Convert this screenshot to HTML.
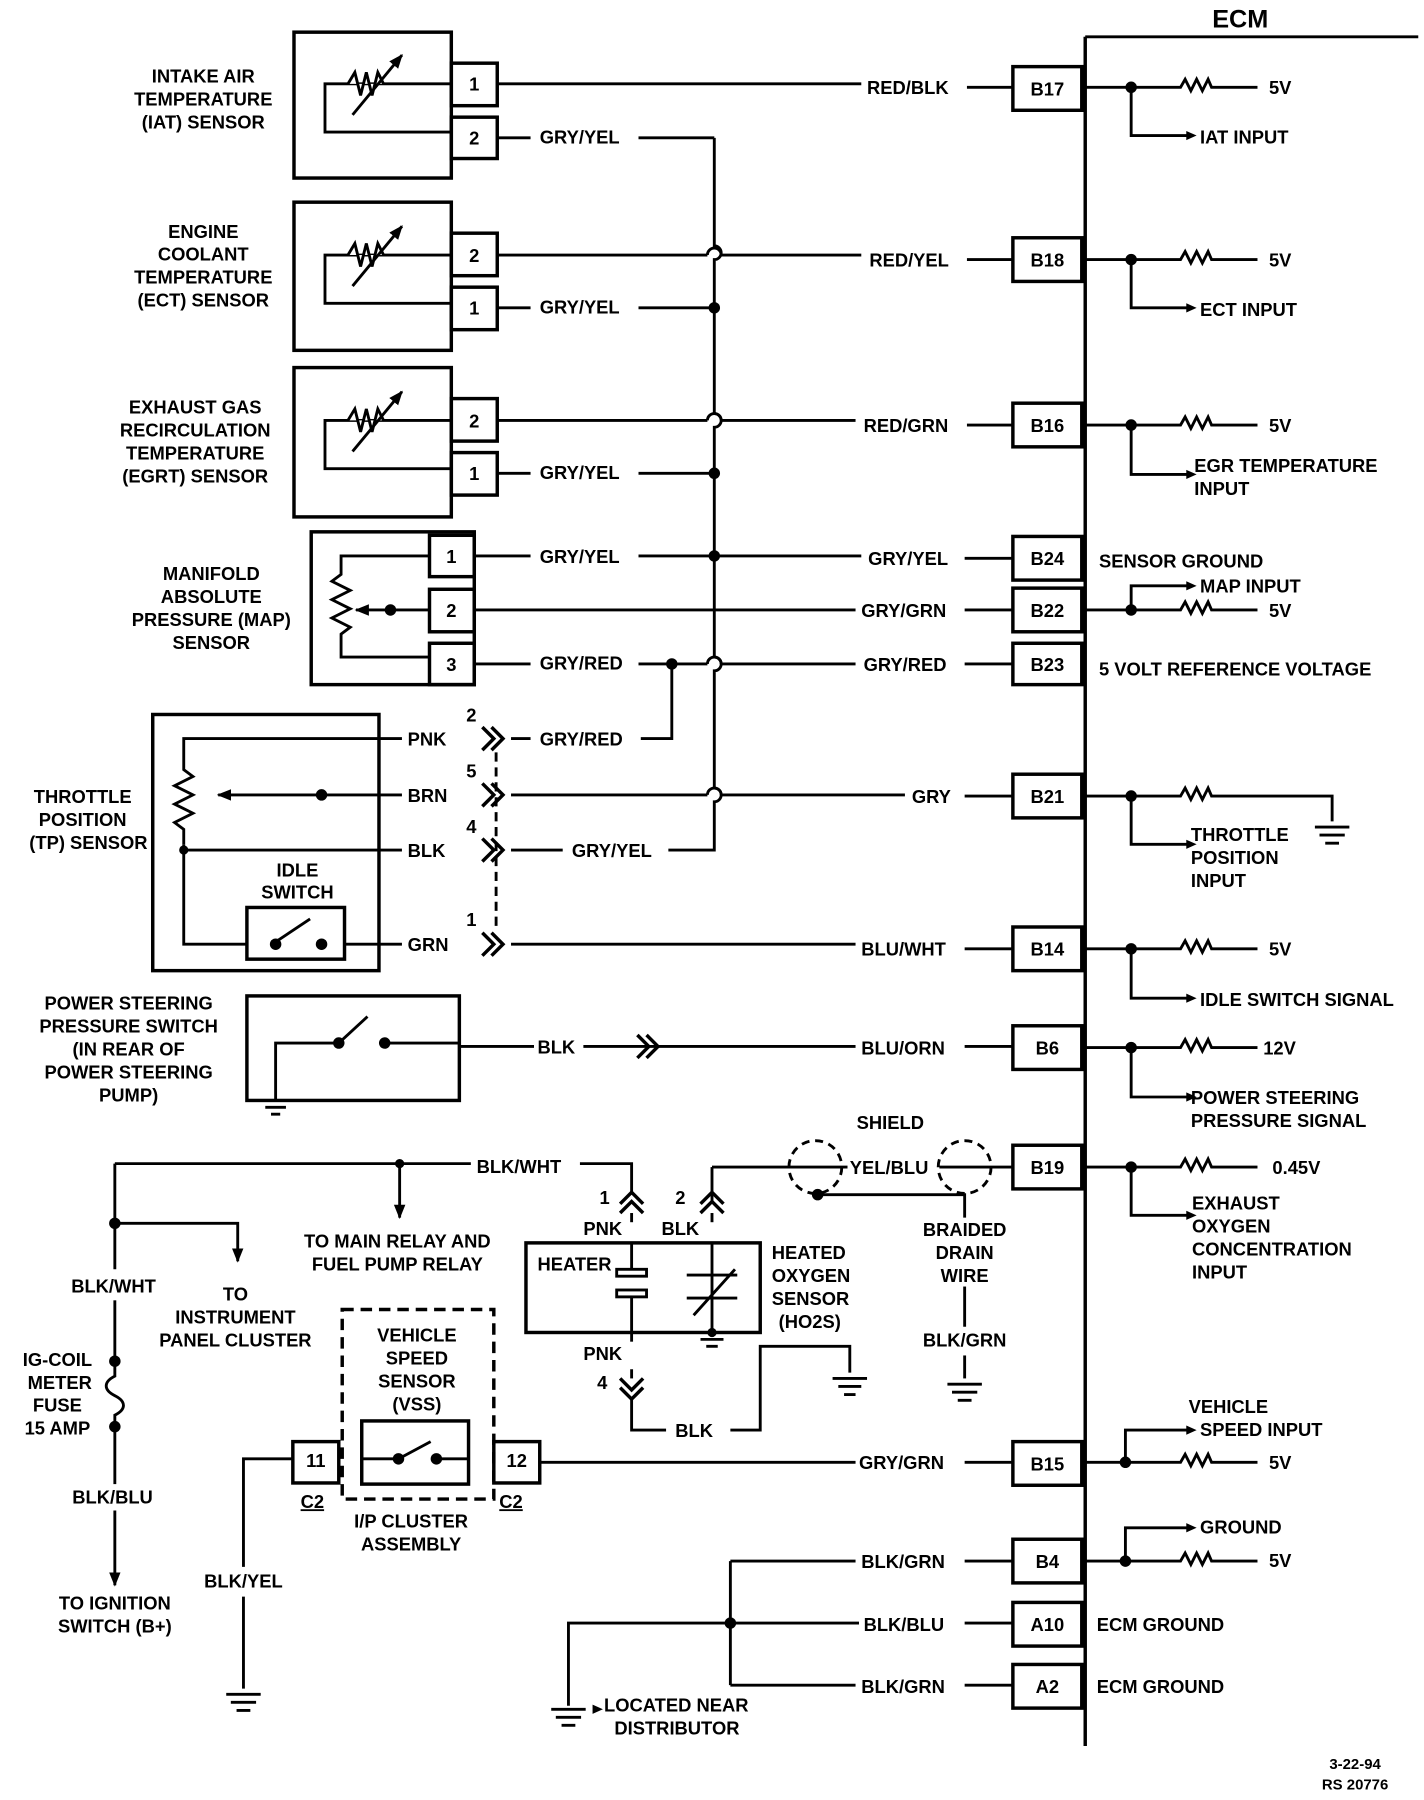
<!DOCTYPE html>
<html><head><meta charset="utf-8"><style>
html,body{margin:0;padding:0;background:#fff;}
svg{display:block;}
text{font-family:"Liberation Sans",sans-serif;font-weight:bold;font-size:16px;fill:#000;}
.m{text-anchor:middle;}
</style></head><body>
<svg width="1424" height="1800" viewBox="0 0 1240 1567" preserveAspectRatio="none" xmlns="http://www.w3.org/2000/svg">
<defs>
<marker id="ar" viewBox="0 0 10 10" refX="9" refY="5" markerWidth="5" markerHeight="5" orient="auto"><path d="M0,1 L10,5 L0,9z" fill="#000"/></marker>
</defs>
<g stroke="#000" stroke-width="2.5" fill="none">
<line x1="945" y1="32" x2="1235" y2="32"/>
<line x1="945" y1="32" x2="945" y2="1520" stroke-width="3"/>
<g stroke-width="3">
<rect x="882" y="58" width="60" height="38"/>
<rect x="882" y="207" width="60" height="38"/>
<rect x="882" y="351" width="60" height="38"/>
<rect x="882" y="467" width="60" height="38"/>
<rect x="882" y="512" width="60" height="38"/>
<rect x="882" y="560" width="60" height="36"/>
<rect x="882" y="674" width="60" height="38"/>
<rect x="882" y="807" width="60" height="38"/>
<rect x="882" y="893" width="60" height="38"/>
<rect x="882" y="997" width="60" height="38"/>
<rect x="882" y="1255" width="60" height="38"/>
<rect x="882" y="1340" width="60" height="38"/>
<rect x="882" y="1395" width="60" height="38"/>
<rect x="882" y="1449" width="60" height="38"/>
<rect x="256" y="28" width="137" height="127"/>
<rect x="393" y="55" width="40" height="37"/><rect x="393" y="102" width="40" height="36"/>
<rect x="256" y="176" width="137" height="129"/>
<rect x="393" y="203" width="40" height="37"/><rect x="393" y="250" width="40" height="37"/>
<rect x="256" y="320" width="137" height="130"/>
<rect x="393" y="347" width="40" height="37"/><rect x="393" y="394" width="40" height="37"/>
<rect x="271" y="463" width="142" height="133"/>
<rect x="374" y="466" width="39" height="36"/><rect x="374" y="513" width="39" height="37"/><rect x="374" y="560" width="39" height="36"/>
<rect x="133" y="622" width="197" height="223"/>
<rect x="215" y="790" width="85" height="45"/>
<rect x="215" y="867" width="185" height="91"/>
<rect x="458" y="1082" width="204" height="78"/>
<rect x="255" y="1255" width="40" height="36"/>
<rect x="430" y="1255" width="40" height="36"/>
<rect x="315" y="1237" width="93" height="55"/>
</g>
<rect x="298" y="1140" width="132" height="165" stroke-dasharray="10,6" stroke-width="3"/>
<path d="M393,73 H283 V115 H393"/>
<path d="M393,222 H283 V264 H393"/>
<path d="M393,366 H283 V408 H393"/>
<path d="M303,73 l6,-10 l5,20 l5,-20 l5,20 l5,-20 l5,10" fill="#fff"/>
<path d="M303,222 l6,-10 l5,20 l5,-20 l5,20 l5,-20 l5,10" fill="#fff"/>
<path d="M303,366 l6,-10 l5,20 l5,-20 l5,20 l5,-20 l5,10" fill="#fff"/>
<line x1="307" y1="100" x2="350" y2="48" marker-end="url(#ar)"/>
<line x1="307" y1="249" x2="350" y2="197" marker-end="url(#ar)"/>
<line x1="307" y1="393" x2="350" y2="341" marker-end="url(#ar)"/>
<path d="M374,484 H297 V500 l-8,6 l16,8 l-16,8 l16,8 l-16,8 l16,8 l-8,6 V572 H374"/>
<line x1="374" y1="531" x2="340" y2="531"/><line x1="340" y1="531" x2="310" y2="531" marker-end="url(#ar)"/>
<path d="M160,735 V722 l-8,-6 l16,-8 l-16,-8 l16,-8 l-16,-8 l16,-8 l-8,-6 V643 H350"/>
<line x1="350" y1="692" x2="280" y2="692"/><line x1="280" y1="692" x2="190" y2="692" marker-end="url(#ar)"/>
<line x1="160" y1="740" x2="350" y2="740"/>
<path d="M160,735 V822 H215"/>
<line x1="300" y1="822" x2="350" y2="822"/>
<line x1="240" y1="820" x2="270" y2="800"/>
<path d="M240,958 V908 H295"/><line x1="295" y1="908" x2="320" y2="885"/><line x1="335" y1="908" x2="400" y2="908"/>
<path d="M227,958 H253 M231,964 H249 M236,970 H244"/>
<line x1="400" y1="911" x2="465" y2="911"/><line x1="508" y1="911" x2="745" y2="911"/><line x1="840" y1="911" x2="882" y2="911"/>
<line x1="433" y1="73" x2="750" y2="73"/><line x1="842" y1="76" x2="882" y2="76"/>
<line x1="433" y1="120" x2="462" y2="120"/><line x1="556" y1="120" x2="622" y2="120"/>
<line x1="433" y1="222" x2="616" y2="222"/><path d="M616,222 a6,6 0 0 1 12,0"/><line x1="628" y1="222" x2="750" y2="222"/><line x1="842" y1="226" x2="882" y2="226"/>
<line x1="433" y1="268" x2="462" y2="268"/><line x1="556" y1="268" x2="622" y2="268"/>
<line x1="433" y1="366" x2="616" y2="366"/><path d="M616,366 a6,6 0 0 1 12,0"/><line x1="628" y1="366" x2="745" y2="366"/><line x1="842" y1="370" x2="882" y2="370"/>
<line x1="433" y1="412" x2="462" y2="412"/><line x1="556" y1="412" x2="622" y2="412"/>
<line x1="413" y1="484" x2="462" y2="484"/><line x1="556" y1="484" x2="750" y2="484"/><line x1="840" y1="486" x2="882" y2="486"/>
<line x1="413" y1="531" x2="745" y2="531"/><line x1="840" y1="531" x2="882" y2="531"/>
<line x1="413" y1="578" x2="462" y2="578"/><line x1="556" y1="578" x2="616" y2="578"/><path d="M616,578 a6,6 0 0 1 12,0"/><line x1="628" y1="578" x2="745" y2="578"/><line x1="840" y1="578" x2="882" y2="578"/>
<path d="M622,120 V214 a6,6 0 0 1 0,12 V360 a6,6 0 0 1 0,12 V572 a6,6 0 0 1 0,12 V686 a6,6 0 0 1 0,12 V740 H582"/>
<path d="M585,578 V643 H558"/>
<line x1="445" y1="643" x2="462" y2="643"/>
<line x1="445" y1="692" x2="616" y2="692"/><path d="M616,692 a6,6 0 0 1 12,0"/><line x1="628" y1="692" x2="788" y2="692"/><line x1="840" y1="693" x2="882" y2="693"/>
<line x1="445" y1="740" x2="490" y2="740"/>
<line x1="445" y1="822" x2="745" y2="822"/><line x1="840" y1="826" x2="882" y2="826"/>
<line x1="432" y1="655" x2="432" y2="810" stroke-dasharray="8,5"/>
<g stroke-width="3">
<path d="M420,633 l10,10 l-10,10 M428,633 l10,10 l-10,10"/>
<path d="M420,682 l10,10 l-10,10 M428,682 l10,10 l-10,10"/>
<path d="M420,730 l10,10 l-10,10 M428,730 l10,10 l-10,10"/>
<path d="M420,812 l10,10 l-10,10 M428,812 l10,10 l-10,10"/>
<path d="M555,901 l10,10 l-10,10 M563,901 l10,10 l-10,10"/>
<path d="M540,1048 l10,-10 l10,10 M540,1056 l10,-10 l10,10"/>
<path d="M610,1048 l10,-10 l10,10 M610,1056 l10,-10 l10,10"/>
<path d="M540,1200 l10,10 l10,-10 M540,1208 l10,10 l10,-10"/>
</g>
<line x1="100" y1="1013" x2="410" y2="1013"/><path d="M505,1013 H550 V1040"/>
<line x1="348" y1="1013" x2="348" y2="1060" marker-end="url(#ar)"/>
<line x1="100" y1="1013" x2="100" y2="1105"/>
<path d="M100,1065 H207 V1098" marker-end="url(#ar)"/>
<line x1="100" y1="1132" x2="100" y2="1185"/>
<path d="M100,1185 V1198 c-10,5 -10,12 0,17 c10,5 10,12 0,17 V1242"/>
<line x1="100" y1="1242" x2="100" y2="1292"/>
<line x1="100" y1="1315" x2="100" y2="1380" marker-end="url(#ar)"/>
<line x1="550" y1="1056" x2="550" y2="1064"/>
<line x1="550" y1="1082" x2="550" y2="1105"/>
<rect x="537" y="1105" width="26" height="6"/><rect x="537" y="1123" width="26" height="6"/>
<line x1="550" y1="1129" x2="550" y2="1160"/>
<line x1="550" y1="1160" x2="550" y2="1168"/>
<line x1="550" y1="1192" x2="550" y2="1200"/>
<path d="M550,1218 V1245 H580"/><path d="M636,1245 H662 V1172 H740 V1195"/>
<path d="M725,1200 H755 M730,1207 H750 M735,1214 H745"/>
<path d="M620,1016 V1048"/><path d="M620,1056 V1064"/>
<path d="M620,1082 V1160"/>
<path d="M598,1110 H642 M598,1130 H642 M604,1145 l36,-40"/>
<path d="M605,1160 H635 M610,1166 H630 M615,1172 H625"/>
<line x1="620" y1="1016" x2="738" y2="1016"/><line x1="818" y1="1016" x2="882" y2="1016"/>
<path d="M712,1040 H840 V1060"/><line x1="840" y1="1120" x2="840" y2="1155"/><line x1="840" y1="1180" x2="840" y2="1200"/>
<path d="M825,1205 H855 M829,1212 H851 M834,1219 H846"/>
<circle cx="710" cy="1016" r="23" stroke-dasharray="7,5"/>
<circle cx="840" cy="1016" r="23" stroke-dasharray="7,5"/>
<line x1="315" y1="1270" x2="345" y2="1270"/><line x1="347" y1="1270" x2="375" y2="1255"/><line x1="380" y1="1270" x2="408" y2="1270"/>
<path d="M255,1270 H212 V1364"/><line x1="212" y1="1390" x2="212" y2="1470"/>
<path d="M197,1475 H227 M201,1482 H223 M206,1489 H218"/>
<line x1="470" y1="1273" x2="745" y2="1273"/><line x1="840" y1="1273" x2="882" y2="1273"/>
<line x1="745" y1="1359" x2="636" y2="1359"/><line x1="840" y1="1359" x2="882" y2="1359"/>
<line x1="748" y1="1413" x2="636" y2="1413"/><line x1="840" y1="1413" x2="882" y2="1413"/>
<line x1="745" y1="1467" x2="636" y2="1467"/><line x1="840" y1="1467" x2="882" y2="1467"/>
<path d="M636,1359 V1467"/><path d="M636,1413 H495 V1485"/>
<path d="M480,1488 H510 M484,1495 H506 M489,1502 H501"/>
<path d="M945,76 H985 V118 H1035" /><path d="M985,76 H1028 l4,-7 l5,10 l5,-10 l5,10 l5,-10 l3,7 H1095"/>
<path d="M945,226 H985 V268 H1035"/><path d="M985,226 H1028 l4,-7 l5,10 l5,-10 l5,10 l5,-10 l3,7 H1095"/>
<path d="M945,370 H985 V413 H1035"/><path d="M985,370 H1028 l4,-7 l5,10 l5,-10 l5,10 l5,-10 l3,7 H1095"/>
<path d="M945,531 H985 V510 H1035"/><path d="M985,531 H1028 l4,-7 l5,10 l5,-10 l5,10 l5,-10 l3,7 H1095"/>
<path d="M945,693 H985 V735 H1035"/><path d="M985,693 H1028 l4,-7 l5,10 l5,-10 l5,10 l5,-10 l3,7 H1160 V715"/>
<path d="M1145,720 H1175 M1149,727 H1171 M1154,734 H1166"/>
<path d="M945,826 H985 V869 H1035"/><path d="M985,826 H1028 l4,-7 l5,10 l5,-10 l5,10 l5,-10 l3,7 H1095"/>
<path d="M945,912 H985 V955 H1035"/><path d="M985,912 H1028 l4,-7 l5,10 l5,-10 l5,10 l5,-10 l3,7 H1095"/>
<path d="M945,1016 H985 V1058 H1035"/><path d="M985,1016 H1028 l4,-7 l5,10 l5,-10 l5,10 l5,-10 l3,7 H1095"/>
<path d="M945,1273 H980 V1245 H1035"/><path d="M980,1273 H1028 l4,-7 l5,10 l5,-10 l5,10 l5,-10 l3,7 H1095"/>
<path d="M945,1359 H980 V1330 H1035"/><path d="M980,1359 H1028 l4,-7 l5,10 l5,-10 l5,10 l5,-10 l3,7 H1095"/>
</g>
<g fill="#000">
<path d="M1042,118 l-9,-4 v8z"/><path d="M1042,268 l-9,-4 v8z"/><path d="M1042,413 l-9,-4 v8z"/><path d="M1042,510 l-9,-4 v8z"/>
<path d="M1042,735 l-9,-4 v8z"/><path d="M1042,869 l-9,-4 v8z"/><path d="M1042,955 l-9,-4 v8z"/><path d="M1042,1058 l-9,-4 v8z"/>
<path d="M1042,1245 l-9,-4 v8z"/><path d="M1042,1330 l-9,-4 v8z"/>
<path d="M525,1488 l-9,-4 v8z"/>
<circle cx="985" cy="76" r="5"/><circle cx="985" cy="226" r="5"/><circle cx="985" cy="370" r="5"/><circle cx="985" cy="531" r="5"/>
<circle cx="985" cy="693" r="5"/><circle cx="985" cy="826" r="5"/><circle cx="985" cy="912" r="5"/><circle cx="985" cy="1016" r="5"/>
<circle cx="980" cy="1273" r="5"/><circle cx="980" cy="1359" r="5"/>
<circle cx="622" cy="268" r="5"/><circle cx="622" cy="412" r="5"/><circle cx="622" cy="484" r="5"/><circle cx="585" cy="578" r="5"/>
<circle cx="340" cy="531" r="5"/><circle cx="280" cy="692" r="5"/><circle cx="160" cy="740" r="4"/>
<circle cx="240" cy="822" r="5"/><circle cx="280" cy="822" r="5"/>
<circle cx="295" cy="908" r="5"/><circle cx="335" cy="908" r="5"/>
<circle cx="348" cy="1013" r="4"/><circle cx="100" cy="1065" r="5"/><circle cx="100" cy="1185" r="5"/><circle cx="100" cy="1242" r="5"/>
<circle cx="712" cy="1040" r="5"/><circle cx="347" cy="1270" r="5"/><circle cx="380" cy="1270" r="5"/>
<circle cx="636" cy="1413" r="5"/><circle cx="620" cy="1160" r="4"/>
</g>
<text x="1080" y="24" class="m" style="font-size:22px">ECM</text>
<g class="m">
<text x="177" y="72" class="m">INTAKE AIR</text><text x="177" y="92" class="m">TEMPERATURE</text><text x="177" y="112" class="m">(IAT) SENSOR</text>
<text x="177" y="207" class="m">ENGINE</text><text x="177" y="227" class="m">COOLANT</text><text x="177" y="247" class="m">TEMPERATURE</text><text x="177" y="267" class="m">(ECT) SENSOR</text>
<text x="170" y="360" class="m">EXHAUST GAS</text><text x="170" y="380" class="m">RECIRCULATION</text><text x="170" y="400" class="m">TEMPERATURE</text><text x="170" y="420" class="m">(EGRT) SENSOR</text>
<text x="184" y="505" class="m">MANIFOLD</text><text x="184" y="525" class="m">ABSOLUTE</text><text x="184" y="545" class="m">PRESSURE (MAP)</text><text x="184" y="565" class="m">SENSOR</text>
<text x="72" y="699" class="m">THROTTLE</text><text x="72" y="719" class="m">POSITION</text><text x="77" y="739" class="m">(TP) SENSOR</text>
<text x="259" y="763" class="m">IDLE</text><text x="259" y="782" class="m">SWITCH</text>
<text x="112" y="879" class="m">POWER STEERING</text><text x="112" y="899" class="m">PRESSURE SWITCH</text><text x="112" y="919" class="m">(IN REAR OF</text><text x="112" y="939" class="m">POWER STEERING</text><text x="112" y="959" class="m">PUMP)</text>
</g>
<text x="413" y="79" class="m">1</text><text x="413" y="126" class="m">2</text>
<text x="413" y="228" class="m">2</text><text x="413" y="274" class="m">1</text>
<text x="413" y="372" class="m">2</text><text x="413" y="418" class="m">1</text>
<text x="393" y="490" class="m">1</text><text x="393" y="537" class="m">2</text><text x="393" y="584" class="m">3</text>
<text x="912" y="83" class="m">B17</text><text x="912" y="232" class="m">B18</text><text x="912" y="376" class="m">B16</text>
<text x="912" y="492" class="m">B24</text><text x="912" y="537" class="m">B22</text><text x="912" y="584" class="m">B23</text>
<text x="912" y="699" class="m">B21</text><text x="912" y="832" class="m">B14</text><text x="912" y="918" class="m">B6</text>
<text x="912" y="1022" class="m">B19</text><text x="912" y="1280" class="m">B15</text><text x="912" y="1365" class="m">B4</text>
<text x="912" y="1420" class="m">A10</text><text x="912" y="1474" class="m">A2</text>
<text x="470" y="125">GRY/YEL</text><text x="470" y="273">GRY/YEL</text><text x="470" y="417">GRY/YEL</text>
<text x="470" y="490">GRY/YEL</text><text x="470" y="583">GRY/RED</text><text x="470" y="649">GRY/RED</text>
<text x="498" y="746">GRY/YEL</text>
<text x="755" y="82">RED/BLK</text><text x="757" y="232">RED/YEL</text><text x="752" y="376">RED/GRN</text>
<text x="756" y="492">GRY/YEL</text><text x="750" y="537">GRY/GRN</text><text x="752" y="584">GRY/RED</text>
<text x="794" y="699">GRY</text><text x="750" y="832">BLU/WHT</text><text x="750" y="918">BLU/ORN</text>
<text x="355" y="649">PNK</text><text x="355" y="698">BRN</text><text x="355" y="746">BLK</text><text x="355" y="828">GRN</text>
<text x="406" y="628">2</text><text x="406" y="677">5</text><text x="406" y="725">4</text><text x="406" y="806">1</text>
<text x="468" y="917">BLK</text>
<text x="1105" y="82">5V</text><text x="1105" y="232">5V</text><text x="1105" y="376">5V</text><text x="1105" y="537">5V</text>
<text x="1105" y="832">5V</text><text x="1100" y="918">12V</text><text x="1108" y="1022">0.45V</text><text x="1105" y="1279">5V</text><text x="1105" y="1364">5V</text>
<text x="1045" y="125">IAT INPUT</text><text x="1045" y="275">ECT INPUT</text>
<text x="1040" y="411">EGR TEMPERATURE</text><text x="1040" y="431">INPUT</text>
<text x="957" y="494">SENSOR GROUND</text><text x="1045" y="516">MAP INPUT</text>
<text x="957" y="588">5 VOLT REFERENCE VOLTAGE</text>
<text x="1037" y="732">THROTTLE</text><text x="1037" y="752">POSITION</text><text x="1037" y="772">INPUT</text>
<text x="1045" y="876">IDLE SWITCH SIGNAL</text>
<text x="1037" y="961">POWER STEERING</text><text x="1037" y="981">PRESSURE SIGNAL</text>
<text x="1038" y="1053">EXHAUST</text><text x="1038" y="1073">OXYGEN</text><text x="1038" y="1093">CONCENTRATION</text><text x="1038" y="1113">INPUT</text>
<text x="1035" y="1230">VEHICLE</text><text x="1045" y="1250">SPEED INPUT</text>
<text x="1045" y="1335">GROUND</text>
<text x="955" y="1420">ECM GROUND</text><text x="955" y="1474">ECM GROUND</text>
<text x="415" y="1021">BLK/WHT</text>
<text x="746" y="983">SHIELD</text><text x="740" y="1022">YEL/BLU</text>
<text x="522" y="1048">1</text><text x="588" y="1048">2</text>
<text x="508" y="1075">PNK</text><text x="576" y="1075">BLK</text>
<text x="468" y="1106">HEATER</text>
<text x="672" y="1096">HEATED</text><text x="672" y="1116">OXYGEN</text><text x="672" y="1136">SENSOR</text><text x="678" y="1156">(HO2S)</text>
<text x="840" y="1076" class="m">BRAIDED</text><text x="840" y="1096" class="m">DRAIN</text><text x="840" y="1116" class="m">WIRE</text>
<text x="840" y="1172" class="m">BLK/GRN</text>
<text x="508" y="1184">PNK</text><text x="520" y="1209">4</text>
<text x="588" y="1251">BLK</text>
<text x="346" y="1086" class="m">TO MAIN RELAY AND</text><text x="346" y="1106" class="m">FUEL PUMP RELAY</text>
<text x="62" y="1125">BLK/WHT</text>
<text x="205" y="1132" class="m">TO</text><text x="205" y="1152" class="m">INSTRUMENT</text><text x="205" y="1172" class="m">PANEL CLUSTER</text>
<text x="50" y="1189" class="m">IG-COIL</text><text x="52" y="1209" class="m">METER</text><text x="50" y="1229" class="m">FUSE</text><text x="50" y="1249" class="m">15 AMP</text>
<text x="98" y="1309" class="m">BLK/BLU</text>
<text x="100" y="1401" class="m">TO IGNITION</text><text x="100" y="1421" class="m">SWITCH (B+)</text>
<text x="363" y="1168" class="m">VEHICLE</text><text x="363" y="1188" class="m">SPEED</text><text x="363" y="1208" class="m">SENSOR</text><text x="363" y="1228" class="m">(VSS)</text>
<text x="275" y="1277" class="m">11</text><text x="450" y="1277" class="m">12</text>
<text x="272" y="1313" class="m" text-decoration="underline">C2</text><text x="445" y="1313" class="m" text-decoration="underline">C2</text>
<text x="358" y="1330" class="m">I/P CLUSTER</text><text x="358" y="1350" class="m">ASSEMBLY</text>
<text x="212" y="1382" class="m">BLK/YEL</text>
<text x="748" y="1279">GRY/GRN</text><text x="750" y="1365">BLK/GRN</text><text x="752" y="1420">BLK/BLU</text><text x="750" y="1474">BLK/GRN</text>
<text x="526" y="1490">LOCATED NEAR</text><text x="535" y="1510">DISTRIBUTOR</text>
<text x="1180" y="1540" class="m" style="font-size:13px">3-22-94</text><text x="1180" y="1558" class="m" style="font-size:13px">RS 20776</text>
</svg>
</body></html>
